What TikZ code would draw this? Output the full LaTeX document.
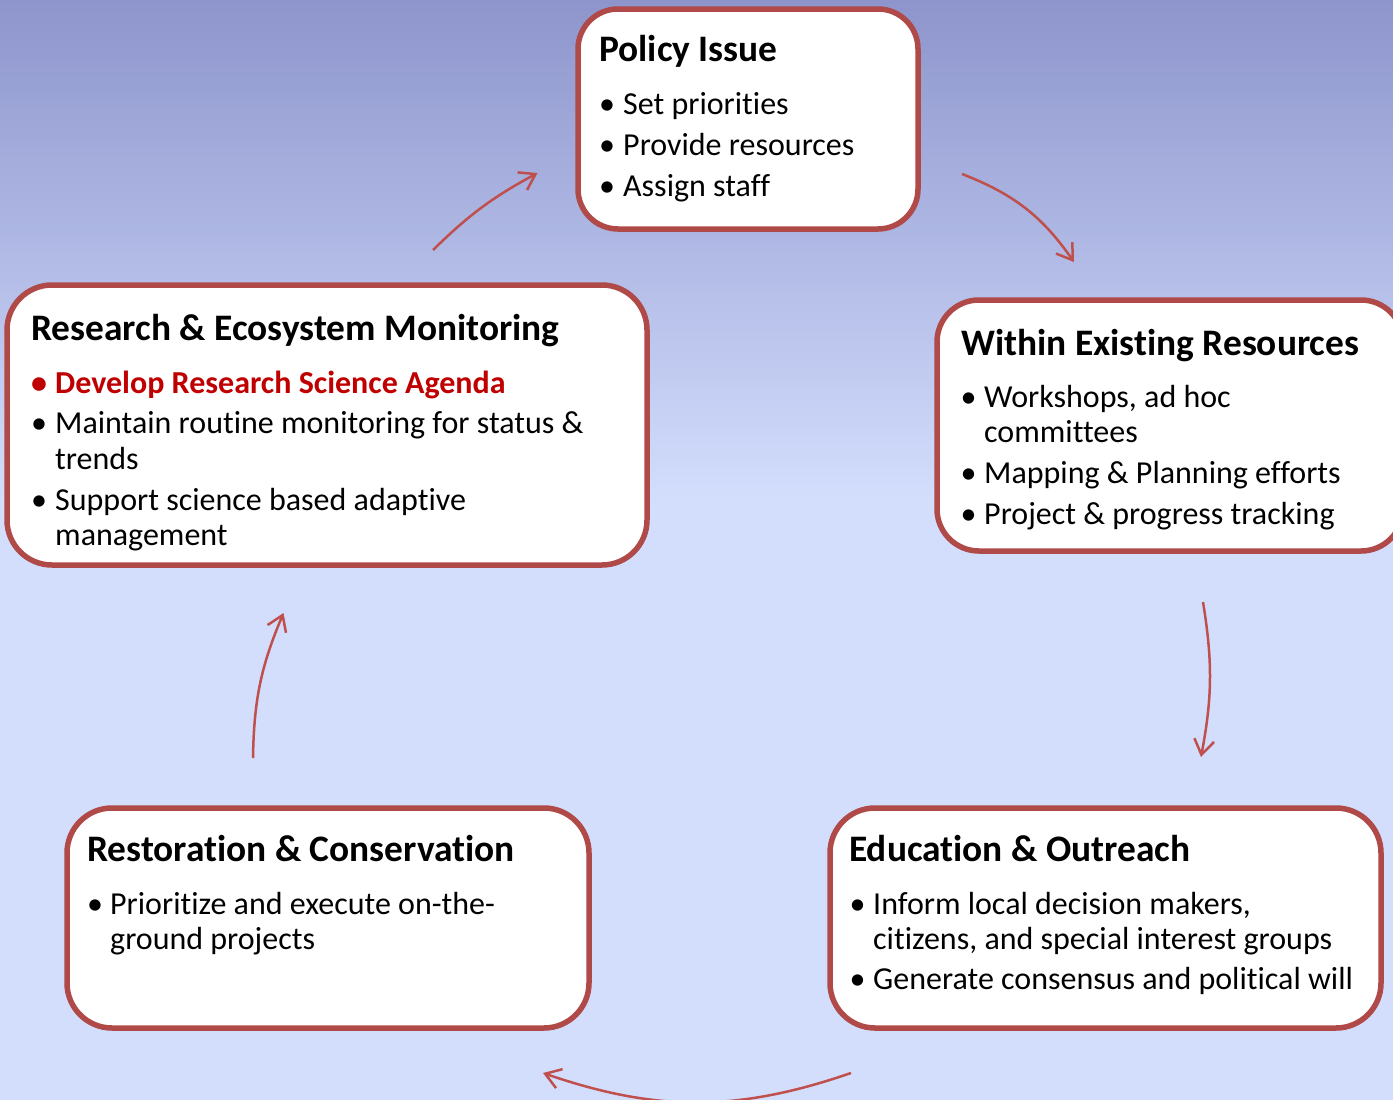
\documentclass[tikz,border=0pt]{standalone}
\usepackage{fontspec}
\setmainfont{Carlito}[Ligatures={NoCommon}]
\usetikzlibrary{arrows.meta}
\definecolor{bordr}{HTML}{B04A48}
\definecolor{arr}{HTML}{C0504D}
\definecolor{bgtop}{HTML}{8D95CC}
\definecolor{bgbot}{HTML}{D3DEFD}
\definecolor{hl}{HTML}{C00000}
\tikzset{
  box/.style={draw=bordr, line width=5.5pt, fill=white, rounded corners=#1, inner sep=0pt, outer sep=0pt},
  box/.default=42pt,
  ttl/.style={anchor=base west, inner sep=0pt, font=\fontsize{37.4}{44}\selectfont\bfseries},
  txt/.style={anchor=base west, inner sep=0pt, font=\fontsize{32}{38}\selectfont},
  dot/.style={anchor=base, inner sep=0pt, font=\fontsize{32}{38}\selectfont},
  cyc/.style={draw=arr, line width=2.5pt, -{Straight Barb[length=15pt,width=20pt]}}
}
\newcommand\bitem[5]{%
  \node[dot] (#1d) at (#2,#4) {•};
  \node[txt] (#1) at (#3,#4) {#5};}
\newcommand\cont[4]{\node[txt] (#1) at (#2,#3) {#4};}
\begin{document}
\begin{tikzpicture}[x=1pt,y=-1pt]
\useasboundingbox (0,0) rectangle (1393,1100);
\fill[top color=bgtop, bottom color=bgbot] (0,0) rectangle (1393,500);
\fill[bgbot] (0,499) rectangle (1393,1100);

% boxes
\node[box=40pt, minimum width=340pt, minimum height=220pt] (pol) at (748,119) {};
\node[box=45pt, minimum width=640pt, minimum height=280pt] (res) at (327,425) {};
\node[box=42pt, minimum width=466pt, minimum height=251pt] (wer) at (1170,425.5) {};
\node[box=45pt, minimum width=522pt, minimum height=220pt] (rst) at (328,918) {};
\node[box=45pt, minimum width=551pt, minimum height=220pt] (edu) at (1105.5,918) {};

% Policy Issue
\node[ttl] (polT) at (599,61) {Policy Issue};
\bitem{polA}{607}{623}{114}{Set priorities}
\bitem{polB}{607}{623}{155}{Provide resources}
\bitem{polC}{607}{623}{196}{Assign staff}

% Research
\node[ttl] (resT) at (31,340) {Research \& Ecosystem Monitoring};
\node[dot, text=hl, font=\fontsize{32}{38}\selectfont\bfseries] (resAd) at (39,393) {•};
\node[txt, text=hl, font=\fontsize{32}{38}\selectfont\bfseries] (resA) at (55,393) {Develop Research Science Agenda};
\bitem{resB}{39}{55}{433}{Maintain routine monitoring for status \&}
\cont{resB2}{55}{469}{trends}
\bitem{resC}{39}{55}{510}{Support science based adaptive}
\cont{resC2}{55}{545}{management}

% Within
\node[ttl] (werT) at (961,355) {Within Existing Resources};
\bitem{werA}{968.5}{984}{407}{Workshops, ad hoc}
\cont{werA2}{984}{442}{committees}
\bitem{werB}{968.5}{984}{483}{Mapping \& Planning efforts}
\bitem{werC}{968.5}{984}{524}{Project \& progress tracking}

% Restoration
\node[ttl] (rstT) at (87,861) {Restoration \& Conservation};
\bitem{rstA}{95}{110}{914}{Prioritize and execute on-the-}
\cont{rstA2}{110}{949}{ground projects}

% Education
\node[ttl] (eduT) at (849,861) {Education \& Outreach};
\bitem{eduA}{857.5}{873}{914}{Inform local decision makers,}
\cont{eduA2}{873}{949}{citizens, and special interest groups}
\bitem{eduB}{857.5}{873}{989}{Generate consensus and political will}

% cycle arrows
\coordinate (a1s) at (433,250);  \coordinate (a1e) at (537.5,173);
\coordinate (a2s) at (962,174);  \coordinate (a2e) at (1074,262);
\coordinate (a3s) at (1203,602); \coordinate (a3e) at (1201,757);
\coordinate (a4s) at (851,1073); \coordinate (a4e) at (543,1073);
\coordinate (a5s) at (253,758);  \coordinate (a5e) at (283.5,613);
\draw[cyc] (a1s) to[bend left=8] (a1e);
\draw[cyc] (a2s) to[bend left=17] (a2e);
\draw[cyc] (a3s) to[bend left=10] (a3e);
\draw[cyc] (a4s) to[bend left=19] (a4e);
\draw[cyc] (a5s) to[bend left=11] (a5e);
\end{tikzpicture}
\end{document}
